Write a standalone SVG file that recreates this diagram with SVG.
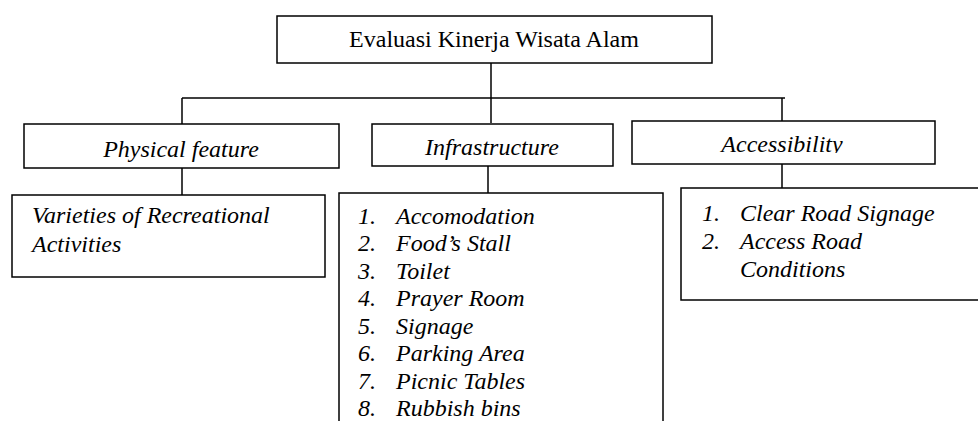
<svg xmlns="http://www.w3.org/2000/svg" width="978" height="421" viewBox="0 0 978 421">
  <style>
    .box { fill: #ffffff; stroke: #000000; stroke-width: 1.5; }
    .conn { fill: none; stroke: #000000; stroke-width: 1.5; }
    .t { font-family: "Liberation Serif", "Times New Roman", serif; font-size: 24px; fill: #000000; }
    .it { font-style: italic; }
    .mid { text-anchor: middle; }
  </style>
  <defs>
    <!-- the heading text is cut just below its baseline -->
    <clipPath id="accClip">
      <rect x="633" y="122" width="301" height="31"/>
    </clipPath>
  </defs>
  <rect width="978" height="421" fill="#ffffff"/>

  <g id="connectors">
    <path class="conn" d="M182,98 H785"/>
    <path class="conn" d="M491,63 V123"/>
    <path class="conn" d="M182,98 V124"/>
    <path class="conn" d="M782,98 V121"/>
    <path class="conn" d="M182,168 V195"/>
    <path class="conn" d="M488,166 V193"/>
    <path class="conn" d="M782,164 V188"/>
  </g>

  <g id="root">
    <rect class="box" x="277" y="16" width="435" height="47"/>
    <text class="t mid" x="494" y="47">Evaluasi Kinerja Wisata Alam</text>
  </g>

  <g id="physical">
    <rect class="box" x="24" y="124" width="315" height="44"/>
    <text class="t it mid" x="181" y="157">Physical feature</text>
  </g>

  <g id="infrastructure">
    <rect class="box" x="372" y="124" width="241" height="42"/>
    <text class="t it mid" x="492" y="155">Infrastructure</text>
  </g>

  <g id="accessibility">
    <rect class="box" x="632" y="121" width="303" height="43"/>
    <text class="t it mid" x="782" y="152" clip-path="url(#accClip)">Accessibility</text>
  </g>

  <g id="recreation">
    <rect class="box" x="12" y="195" width="313" height="82"/>
    <text class="t it" x="32" y="223">Varieties of Recreational</text>
    <text class="t it" x="32" y="252">Activities</text>
  </g>

  <g id="facilities">
    <rect class="box" x="339" y="193" width="324" height="240"/>
    <g class="t it">
      <text x="358" y="224">1.</text><text x="396" y="224">Accomodation</text>
      <text x="358" y="251">2.</text><text x="396" y="251">Food’s Stall</text>
      <text x="358" y="279">3.</text><text x="396" y="279">Toilet</text>
      <text x="358" y="306">4.</text><text x="396" y="306">Prayer Room</text>
      <text x="358" y="334">5.</text><text x="396" y="334">Signage</text>
      <text x="358" y="361">6.</text><text x="396" y="361">Parking Area</text>
      <text x="358" y="389">7.</text><text x="396" y="389">Picnic Tables</text>
      <text x="358" y="416">8.</text><text x="396" y="416">Rubbish bins</text>
    </g>
  </g>

  <g id="access-items">
    <rect class="box" x="681" y="188" width="300" height="112"/>
    <g class="t it">
      <text x="702" y="221">1.</text><text x="740" y="221">Clear Road Signage</text>
      <text x="702" y="249">2.</text><text x="740" y="249">Access Road</text>
      <text x="740" y="277">Conditions</text>
    </g>
  </g>
</svg>
